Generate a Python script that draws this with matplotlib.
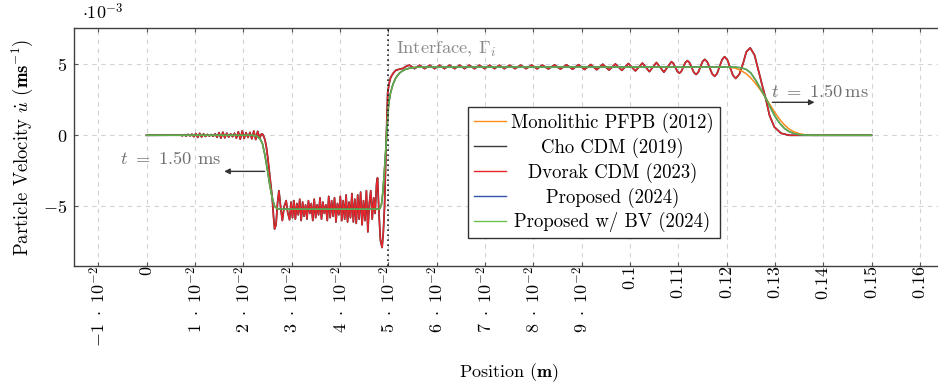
import numpy as np
import matplotlib as mpl
mpl.use('Agg')
import matplotlib.pyplot as plt
from matplotlib.ticker import FixedLocator, FixedFormatter

plt.rcParams['font.family'] = 'serif'
plt.rcParams['font.serif'] = ['cmr10']
plt.rcParams['mathtext.fontset'] = 'cm'
plt.rcParams['axes.formatter.use_mathtext'] = True

### data (velocity in units of 1e-3 m/s) ###
# smooth solutions: Proposed / Proposed w/ BV and Monolithic PFPB
x_smooth = [0.0, 0.0220, 0.0228, 0.0235, 0.0240, 0.0245, 0.0250, 0.0255, 0.0260, 0.0265, 0.0270, 0.0275,
            0.0482, 0.0486, 0.0489, 0.0492, 0.0495, 0.0498, 0.0501, 0.0505, 0.0510, 0.0516, 0.0524, 0.0534,
            0.0546, 0.0560, 0.0580,
            0.1200, 0.1210, 0.1220, 0.1230, 0.1240, 0.1250, 0.1260, 0.1270, 0.1280, 0.1290, 0.1300, 0.1310,
            0.1320, 0.1330, 0.1340, 0.1350, 0.1360, 0.1370, 0.1380, 0.1400, 0.1500]
u_bv = [0.0, 0.0, -0.05, -0.25, -0.6, -1.4, -2.4, -3.5, -4.4, -5.0, -5.15, -5.2,
        -5.2, -4.9, -4.0, -2.6, -1.0, 0.7, 2.2, 3.0, 3.6, 4.05, 4.4, 4.62,
        4.74, 4.79, 4.8,
        4.8, 4.8, 4.79, 4.75, 4.65, 4.4, 3.9, 3.3, 2.7, 2.0, 1.35, 0.85,
        0.48, 0.25, 0.12, 0.05, 0.02, 0.005, 0.0, 0.0, 0.0]
u_pfpb = [0.0, 0.0, -0.05, -0.25, -0.6, -1.4, -2.4, -3.5, -4.4, -5.0, -5.15, -5.2,
          -5.2, -4.9, -4.0, -2.6, -1.0, 0.7, 2.2, 3.0, 3.6, 4.05, 4.4, 4.62,
          4.74, 4.79, 4.8,
          4.8, 4.78, 4.7, 4.55, 4.35, 4.05, 3.65, 3.2, 2.7, 2.15, 1.6, 1.12,
          0.72, 0.43, 0.24, 0.12, 0.05, 0.02, 0.005, 0.0, 0.0]

# CDM solutions (Cho and Dvorak overlap), read segment by segment
x_cdm_a = [0.0, 0.0070, 0.0074, 0.0078, 0.0082, 0.0086, 0.0090, 0.0094, 0.0098, 0.0102, 0.0106, 0.0110,
           0.0114, 0.0118, 0.0122, 0.0126, 0.0130, 0.0134, 0.0138, 0.0142, 0.0146, 0.0150, 0.0154,
           0.0158, 0.0162, 0.0166, 0.0170, 0.0174, 0.0178, 0.0182, 0.0186, 0.0190, 0.0194, 0.0198,
           0.0202, 0.0206, 0.0210, 0.0214, 0.0218, 0.0222, 0.0226, 0.0230, 0.0234, 0.0238]
u_cdm_a = [0.0, 0.02, -0.03, 0.04, -0.05, 0.06, -0.04, 0.08, -0.1, 0.12, -0.15, 0.14,
           -0.12, 0.1, -0.08, 0.06, -0.05, 0.05, -0.07, 0.1, -0.14, 0.18, -0.2,
           0.22, -0.18, 0.15, -0.12, 0.1, -0.1, 0.14, -0.2, 0.25, -0.28, 0.3,
           -0.22, 0.18, -0.15, 0.2, -0.25, 0.3, -0.3, 0.28, -0.2, 0.1]

x_cdm_b = [0.0241, 0.0245, 0.0248, 0.0251, 0.0254, 0.0257, 0.0260, 0.0263, 0.0265, 0.0268, 0.0271,
           0.0274, 0.0278, 0.0281, 0.0285, 0.0289, 0.0292, 0.0296]
u_cdm_b = [0.05, -0.3, -0.82, -1.6, -2.5, -3.4, -4.35, -5.8, -6.6, -6.3, -4.8,
           -3.9, -5.2, -6.0, -5.0, -4.6, -5.4, -5.95]

x_cdm_c = [0.0299, 0.0302, 0.0305, 0.0308, 0.0311, 0.0314, 0.0317, 0.0320, 0.0323, 0.0326,
           0.0329, 0.0332, 0.0335, 0.0338, 0.0341, 0.0344, 0.0347, 0.0350, 0.0353, 0.0356,
           0.0359, 0.0362, 0.0365, 0.0368, 0.0371, 0.0374, 0.0377, 0.0380, 0.0383, 0.0386,
           0.0389, 0.0392, 0.0395, 0.0398, 0.0401, 0.0404, 0.0407, 0.0410, 0.0413, 0.0416,
           0.0419, 0.0422, 0.0425, 0.0428, 0.0431, 0.0434, 0.0437, 0.0440, 0.0443, 0.0446,
           0.0449, 0.0452, 0.0455, 0.0458, 0.0461, 0.0464, 0.0467, 0.0470, 0.0473, 0.0476,
           0.0478, 0.0481, 0.0484, 0.04875, 0.0490, 0.04925, 0.0496, 0.0499, 0.0502]
u_cdm_c = [-4.7, -5.8, -4.6, -5.9, -4.8, -5.6, -4.5, -6.0, -4.7, -5.7,
           -4.9, -5.9, -4.6, -5.5, -4.8, -6.0, -4.5, -5.8, -4.9, -5.6,
           -4.4, -5.9, -4.7, -5.5, -4.9, -6.0, -4.3, -5.8, -4.6, -5.7,
           -4.4, -6.1, -4.8, -5.6, -4.3, -6.0, -4.6, -5.9, -4.2, -6.1,
           -4.7, -5.8, -4.1, -6.1, -4.5, -6.2, -4.2, -5.9, -4.0, -6.3,
           -4.6, -6.0, -3.9, -6.8, -4.8, -3.9, -5.9, -4.4, -5.5, -3.4,
           -3.0, -5.5, -7.4, -7.9, -6.8, -5.0, -0.4, 3.0, 3.65]

x_cdm_d = [0.0505, 0.0510, 0.0516, 0.0523, 0.0530, 0.0537,
           0.0544, 0.05545, 0.0565, 0.05755, 0.0586, 0.0596, 0.0606, 0.06165, 0.0627, 0.06375,
           0.0648, 0.0658, 0.0668, 0.06785, 0.0689, 0.06995, 0.0710, 0.0720, 0.0730, 0.07405,
           0.0751, 0.07625, 0.0774, 0.07855, 0.0797, 0.0808, 0.0819, 0.08315, 0.0844, 0.08565,
           0.0869, 0.08815, 0.0894, 0.09065, 0.0919, 0.09315, 0.0944, 0.0957, 0.0970, 0.09835,
           0.0997, 0.10115, 0.1026, 0.10405, 0.1055, 0.10705, 0.1086,
           0.10901, 0.10943, 0.10984, 0.11025, 0.11066, 0.11108, 0.11149, 0.1119, 0.11235, 0.1128,
           0.11325, 0.1137, 0.11415, 0.1146, 0.11505, 0.1155, 0.11601, 0.11653, 0.11704, 0.11755,
           0.11806, 0.11858, 0.11909, 0.1196, 0.12018, 0.12075, 0.12133, 0.1219, 0.12268, 0.12345,
           0.1241, 0.1249, 0.1258, 0.1265, 0.1274, 0.1281, 0.1289, 0.1299, 0.1313, 0.1330, 0.1500]
u_cdm_d = [4.05, 4.35, 4.58, 4.65, 4.7, 4.85,
           4.94, 4.69, 4.93, 4.69, 4.93, 4.69, 4.93, 4.69, 4.93, 4.69,
           4.93, 4.69, 4.93, 4.69, 4.93, 4.69, 4.93, 4.69, 4.93, 4.69,
           4.93, 4.69, 4.93, 4.69, 4.94, 4.68, 4.94, 4.67, 4.95, 4.66,
           4.96, 4.65, 4.97, 4.63, 4.98, 4.61, 5.00, 4.59, 5.02, 4.57,
           5.05, 4.53, 5.08, 4.48, 5.12, 4.44, 5.18,
           5.06, 4.78, 4.49, 4.37, 4.50, 4.81, 5.12, 5.25, 5.11, 4.77,
           4.42, 4.28, 4.43, 4.81, 5.19, 5.34, 5.17, 4.75, 4.32, 4.15,
           4.35, 4.84, 5.33, 5.53, 5.31, 4.77, 4.22, 4.00, 4.31, 5.08,
           5.87, 6.15, 5.65, 4.7, 3.5, 2.6, 1.4, 0.58, 0.14, 0.0, 0.0]

x_cdm = np.array(x_cdm_a + x_cdm_b + x_cdm_c + x_cdm_d)
u_cdm = np.array(u_cdm_a + u_cdm_b + u_cdm_c + u_cdm_d)

labels = ['Monolithic PFPB (2012)', 'Cho CDM (2019)', 'Dvorak CDM (2023)',
          'Proposed (2024)', 'Proposed w/ BV (2024)']
colors = ['#ff8c1a', '#3a3a3a', '#e8252c', '#3355aa', '#70c050']

xticks = [-0.01, 0.0, 0.01, 0.02, 0.03, 0.04, 0.05, 0.06, 0.07, 0.08, 0.09,
          0.10, 0.11, 0.12, 0.13, 0.14, 0.15, 0.16]
xticklabels = [r'$-1\ \cdot\ 10^{-2}$', r'$0$', r'$1\ \cdot\ 10^{-2}$', r'$2\ \cdot\ 10^{-2}$',
               r'$3\ \cdot\ 10^{-2}$', r'$4\ \cdot\ 10^{-2}$', r'$5\ \cdot\ 10^{-2}$',
               r'$6\ \cdot\ 10^{-2}$', r'$7\ \cdot\ 10^{-2}$', r'$8\ \cdot\ 10^{-2}$',
               r'$9\ \cdot\ 10^{-2}$', r'$0.1$', r'$0.11$', r'$0.12$', r'$0.13$',
               r'$0.14$', r'$0.15$', r'$0.16$']
yticks = [-5, 0, 5]
yticklabels = [r'$-5$', r'$0$', r'$5$']

### plot ###
fig = plt.figure(figsize=(9.38, 3.89), dpi=100)
ax = fig.add_axes([74/938, 123/389, 870/938, 238/389])

l_cho, = ax.plot(x_cdm, u_cdm, color=colors[1], lw=1.3, zorder=3)
l_dv, = ax.plot(x_cdm, u_cdm, color=colors[2], lw=1.0, zorder=3)
l_pf, = ax.plot(x_smooth, u_pfpb, color=colors[0], lw=1.1, zorder=4)
l_pr, = ax.plot(x_smooth, u_bv, color=colors[3], lw=1.1, zorder=4)
l_bv, = ax.plot(x_smooth, u_bv, color='#5fb043', lw=1.1, zorder=5)

ax.axvline(0.05, color='#222222', ls=(0, (1, 2)), lw=1.2, zorder=6)

ax.set_xlim(-0.015, 0.165)
ax.set_ylim(-9.2, 7.55)
ax.xaxis.set_major_locator(FixedLocator(xticks))
ax.xaxis.set_major_formatter(FixedFormatter(xticklabels))
ax.yaxis.set_major_locator(FixedLocator(yticks))
ax.yaxis.set_major_formatter(FixedFormatter(yticklabels))
ax.tick_params(axis='x', direction='in', top=True, length=3, labelsize=13, pad=0,
               labelrotation=90, color='#555555')
ax.tick_params(axis='y', direction='in', right=True, length=3, labelsize=13, pad=5,
               color='#555555')
ax.grid(True, ls=(0, (4, 4)), color='#d3d3d3', lw=0.8)
ax.set_axisbelow(True)
for s in ax.spines.values():
    s.set_color('#404040')
    s.set_linewidth(1.0)

ax.set_xlabel(r'Position $\mathbf{(m)}$', fontsize=13, labelpad=10)
ax.set_ylabel(r'Particle Velocity $\dot{u}$ $\mathbf{(ms^{-1})}$', fontsize=13.5, labelpad=6)
ax.text(0.009, 1.025, r'$\cdot10^{-3}$', transform=ax.transAxes, fontsize=13, ha='left', va='bottom')

ax.text(0.0517, 6.1, r'Interface, $\Gamma_i$', color='#8a8a8a', fontsize=13.3, va='center', ha='left')
ax.text(0.00497, -1.62, r'$t\ =\ 1.50$ ms', color='#707070', fontsize=13.3, va='center', ha='center')
ax.annotate('', xy=(0.0155, -2.54), xytext=(0.0250, -2.54),
            arrowprops=dict(arrowstyle='-|>', color='#333333', lw=1.0, mutation_scale=8))
ax.text(0.1393, 3.1, r'$t\ =\ 1.50\,$ms', color='#707070', fontsize=13.3, va='center', ha='center')
ax.annotate('', xy=(0.1388, 2.32), xytext=(0.1289, 2.32),
            arrowprops=dict(arrowstyle='-|>', color='#333333', lw=1.0, mutation_scale=8))

h_pf = plt.Line2D([], [], color=colors[0], lw=1.0)
h_ch = plt.Line2D([], [], color=colors[1], lw=1.0)
h_dv = plt.Line2D([], [], color=colors[2], lw=1.0)
h_pr = plt.Line2D([], [], color=colors[3], lw=1.0)
h_bv = plt.Line2D([], [], color=colors[4], lw=1.0)
leg = ax.legend([h_pf, h_ch, h_dv, h_pr, h_bv], labels, loc='lower left',
                bbox_to_anchor=(0.453, 0.1176), borderaxespad=0, fontsize=13.5,
                fancybox=False, edgecolor='#333333', framealpha=1, handlelength=1.7,
                handletextpad=0.3, labelspacing=0.25, borderpad=0.3)
leg.get_frame().set_linewidth(1.0)
leg.set_zorder(10)

# center the legend texts like pgfplots does
fig.canvas.draw()
rend = fig.canvas.get_renderer()
widths = [t.get_window_extent(rend).width for t in leg.get_texts()]
wmax = max(widths)
for t, w in zip(leg.get_texts(), widths):
    t.set_x((wmax - w) / 2)

fig.savefig('out.png', dpi=100)
